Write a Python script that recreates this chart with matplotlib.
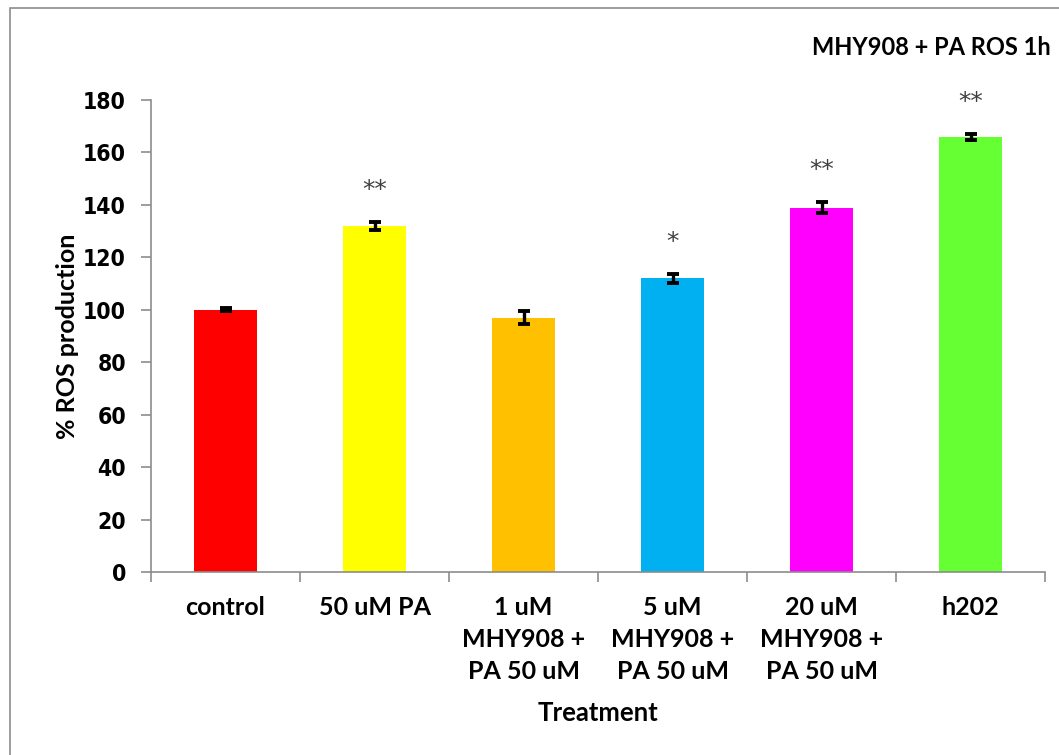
import matplotlib
matplotlib.use("Agg")
import matplotlib.pyplot as plt
from matplotlib.patches import Rectangle

categories = ["control", "50 uM PA", "1 uM\nMHY908 +\nPA 50 uM",
              "5 uM\nMHY908 +\nPA 50 uM", "20 uM\nMHY908 +\nPA 50 uM", "h202"]
ros_values = [100, 132, 97, 112, 139, 166]
ros_errors = [0.5, 1.5, 2.5, 1.8, 2.2, 1.2]
significance = ["", "**", "", "*", "**", "**"]
bar_colors = ["#FF0000", "#FFFF00", "#FFC000", "#00B0F0", "#FF00FF", "#66FF33"]
y_ticks = [0, 20, 40, 60, 80, 100, 120, 140, 160, 180]

fig = plt.figure(figsize=(10.59, 7.55), dpi=100)
ax = fig.add_axes([0.1426, 0.2424, 0.8442, 0.6251])

# outer chart border
fig.patches.append(Rectangle((10 / 1059, -0.05), 1.2, 1 - 8 / 755 + 0.05,
                             transform=fig.transFigure, fill=False,
                             edgecolor="#8c8c8c", linewidth=1.2))

x = list(range(len(categories)))
ax.bar(x, ros_values, width=0.42, color=bar_colors, zorder=2)
ax.errorbar(x, ros_values, yerr=ros_errors, fmt="none", ecolor="black",
            elinewidth=2.4, capsize=4.5, capthick=2.8, zorder=3)

for xi, v, e, s in zip(x, ros_values, ros_errors, significance):
    if s:
        ax.text(xi, v + e + 9.5, s, ha="center", va="baseline", fontsize=18,
                color="#404040", family="DejaVu Sans")

ax.set_xlim(-0.5, len(categories) - 0.5)
ax.set_ylim(0, 180)
ax.set_yticks(y_ticks)
ax.set_yticklabels([str(t) for t in y_ticks], fontsize=16.5, fontweight="bold",
                   family="DejaVu Sans", fontstretch="condensed")

ax.set_xticks([i + 0.5 for i in range(-1, len(categories))], minor=False)
ax.set_xticklabels([])
ax.set_xticks(x, minor=True)
ax.set_xticklabels(categories, minor=True, fontsize=18, fontweight="bold",
                   family="Lato", linespacing=1.48)
ax.tick_params(axis="x", which="minor", length=0, pad=17)
ax.tick_params(axis="x", which="major", length=7, direction="out",
               color="#8c8c8c", width=1.2)
ax.tick_params(axis="y", length=7, direction="out", color="#8c8c8c",
               width=1.2, pad=11)

for side in ["top", "right"]:
    ax.spines[side].set_visible(False)
for side in ["left", "bottom"]:
    ax.spines[side].set_color("#8c8c8c")
    ax.spines[side].set_linewidth(1.2)

ax.set_ylabel("% ROS production", fontsize=18, fontweight="bold", family="Lato",
              labelpad=3)
ax.set_xlabel("Treatment", fontsize=18.5, fontweight="bold", family="Lato",
              labelpad=13)

fig.text(0.992, 0.937, "MHY908 + PA ROS 1h", ha="right", va="center",
         fontsize=17, fontweight="bold", family="Lato")

fig.savefig("out.png", dpi=100)
